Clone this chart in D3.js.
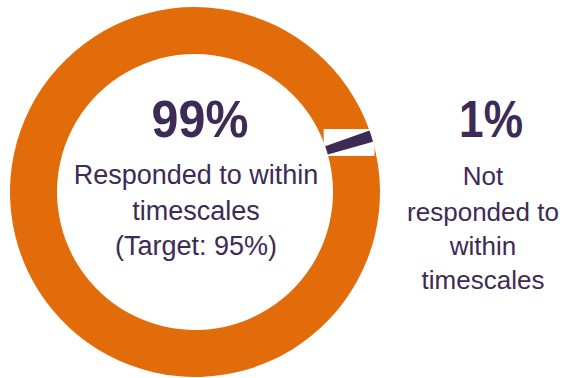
<!DOCTYPE html>
<html>
<head>
<meta charset="utf-8">
<script src="https://cdn.jsdelivr.net/npm/d3@7"></script>
<style>
  html, body { margin: 0; padding: 0; background: #fff; }
  svg { display: block; }
  text { font-family: "Liberation Sans", Arial, sans-serif; fill: #3D2B56; }
</style>
</head>
<body>
<svg id="chart" width="566" height="378"></svg>
<script>
// Response performance split
const categories = ["Responded to within timescales", "Not responded to within timescales"];
const values = [99, 1];
const colors = ["#E36C0A", "#3D2B56"];
const centreLines = ["Responded to within", "timescales", "(Target: 95%)"];
const sideLines = ["Not", "responded to", "within", "timescales"];

const svg = d3.select("#chart");
const cx = 195, cy = 192, outerR = 185, innerR = 138;

const start = 74.2 * Math.PI / 180;
const pie = d3.pie().sort(null).value(d => d).startAngle(start).endAngle(start + 2 * Math.PI);
const arc = d3.arc().innerRadius(innerR).outerRadius(outerR);
const arcs = pie(values);

const g = svg.append("g").attr("transform", `translate(${cx},${cy})`);

g.selectAll("path.slice")
  .data(arcs)
  .join("path")
  .attr("class", "slice")
  .attr("d", arc)
  .attr("fill", (d, i) => colors[i]);

// white box behind the small slice
const small = arcs[1];
const pts = [];
[small.startAngle, small.endAngle].forEach(a => {
  [innerR, outerR].forEach(r => pts.push([r * Math.sin(a), -r * Math.cos(a)]));
});
const xs = pts.map(p => p[0]), ys = pts.map(p => p[1]);
const pad = 1.5;
g.insert("rect", "path.slice:last-of-type")
  .attr("x", d3.min(xs) - pad)
  .attr("y", d3.min(ys) - pad)
  .attr("width", d3.max(xs) - d3.min(xs) + 2 * pad)
  .attr("height", d3.max(ys) - d3.min(ys) + 2 * pad)
  .attr("fill", "#fff");

// centre label
svg.append("text")
  .attr("x", 200).attr("y", 137)
  .attr("text-anchor", "middle")
  .attr("font-size", 52).attr("font-weight", "bold")
  .attr("transform", "translate(200,0) scale(0.93,1) translate(-200,0)")
  .text(values[0] + "%");

const centreBase = [184, 220, 255];
centreLines.forEach((t, i) => {
  svg.append("text")
    .attr("x", 196).attr("y", centreBase[i])
    .attr("text-anchor", "middle")
    .attr("font-size", 27)
    .text(t);
});

// side label
svg.append("text")
  .attr("x", 491).attr("y", 137)
  .attr("text-anchor", "middle")
  .attr("font-size", 52).attr("font-weight", "bold")
  .attr("transform", "translate(491,0) scale(0.85,1) translate(-491,0)")
  .text(values[1] + "%");

const sideBase = [185, 221, 255, 289];
sideLines.forEach((t, i) => {
  svg.append("text")
    .attr("x", 483).attr("y", sideBase[i])
    .attr("text-anchor", "middle")
    .attr("font-size", 26)
    .text(t);
});
</script>
</body>
</html>
